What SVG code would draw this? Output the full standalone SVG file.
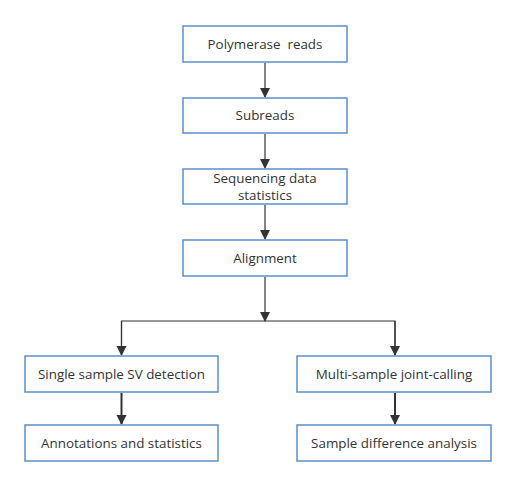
<svg xmlns="http://www.w3.org/2000/svg" width="516" height="486" viewBox="0 0 516 486">
<style>
.box{fill:#fff;stroke:#5b8fcc;stroke-width:1.5}
.t{font-family:"Open Sans","Noto Sans",sans-serif;font-size:13.4px;fill:#333;text-anchor:middle}
.c{stroke:#333;stroke-width:1.2;fill:none}
.c2{stroke:#333;stroke-width:2;fill:none}
</style>
<defs>
<marker id="ah" markerWidth="10" markerHeight="12" refX="9" refY="5" orient="auto" markerUnits="userSpaceOnUse" viewBox="0 0 10 10">
<path d="M0,0 L10,5 L0,10 Z" fill="#333"/>
</marker>
</defs>
<rect width="516" height="486" fill="#fff"/>
<g id="connectors">
<line class="c" x1="265" y1="63" x2="265" y2="97" marker-end="url(#ah)"/>
<line class="c" x1="265" y1="134" x2="265" y2="168" marker-end="url(#ah)"/>
<line class="c" x1="265" y1="205" x2="265" y2="239" marker-end="url(#ah)"/>
<line class="c" x1="265" y1="277" x2="265" y2="321" marker-end="url(#ah)"/>
<polyline class="c" points="121.5,355 121.5,321 395,321 395,355"/>
<line class="c" x1="121.5" y1="321" x2="121.5" y2="355" marker-end="url(#ah)"/>
<line class="c" x1="395" y1="321" x2="395" y2="355" marker-end="url(#ah)"/>
<line class="c2" x1="121.5" y1="393" x2="121.5" y2="424" marker-end="url(#ah)"/>
<line class="c2" x1="395" y1="393" x2="395" y2="424" marker-end="url(#ah)"/>
</g>
<g id="n1"><rect class="box" x="183" y="26" width="164" height="36"/><text class="t" x="265" y="49">Polymerase&#160; reads</text></g>
<g id="n2"><rect class="box" x="183" y="98" width="164" height="35"/><text class="t" x="265" y="120">Subreads</text></g>
<g id="n3"><rect class="box" x="183" y="169" width="164" height="35"/><text class="t" x="265" y="183">Sequencing data</text><text class="t" x="265" y="200">statistics</text></g>
<g id="n4"><rect class="box" x="183" y="240" width="164" height="36"/><text class="t" x="265" y="263">Alignment</text></g>
<g id="n5"><rect class="box" x="25" y="356" width="193" height="36"/><text class="t" x="121.5" y="379">Single sample SV detection</text></g>
<g id="n6"><rect class="box" x="297" y="356" width="194" height="36"/><text class="t" x="394" y="379">Multi-sample joint-calling</text></g>
<g id="n7"><rect class="box" x="25" y="425" width="193" height="36"/><text class="t" x="121.5" y="448">Annotations and statistics</text></g>
<g id="n8"><rect class="box" x="297" y="425" width="194" height="36"/><text class="t" x="394" y="448">Sample difference analysis</text></g>
</svg>
